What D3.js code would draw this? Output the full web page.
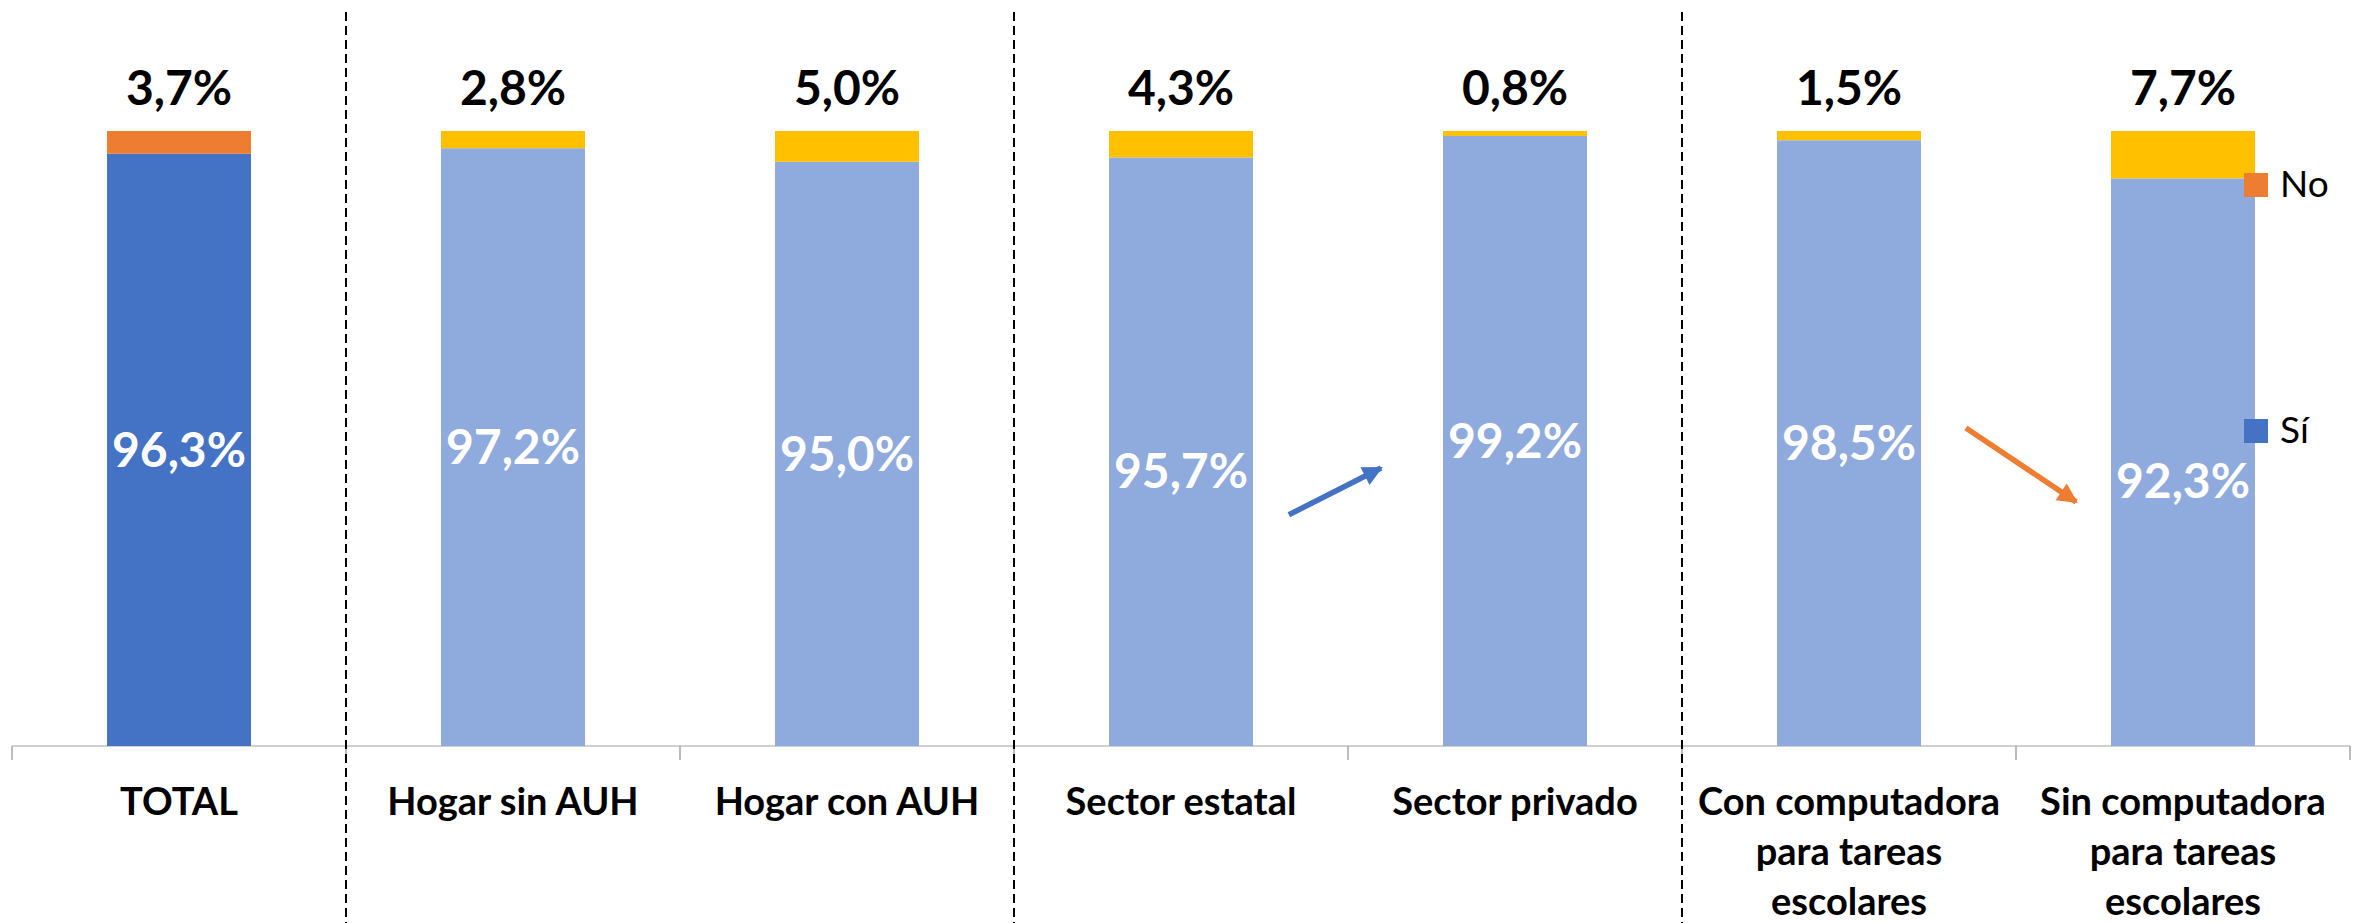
<!DOCTYPE html>
<meta charset="utf-8">
<html>
<head>
<style>
  body { margin: 0; background: #fff; }
  text { font-family: Lato, "Open Sans", sans-serif; }
</style>
</head>
<body>
<div id="chartContainer"></div>
<script src="https://cdn.jsdelivr.net/npm/d3@7"></script>
<script type="text/javascript">
  // data
  var categories = ["TOTAL", "Hogar sin AUH", "Hogar con AUH", "Sector estatal",
    "Sector privado", "Con computadora para tareas escolares", "Sin computadora para tareas escolares"];
  var categoryLines = [["TOTAL"], ["Hogar sin AUH"], ["Hogar con AUH"], ["Sector estatal"],
    ["Sector privado"], ["Con computadora", "para tareas", "escolares"], ["Sin computadora", "para tareas", "escolares"]];
  var si = [96.3, 97.2, 95.0, 95.7, 99.2, 98.5, 92.3];
  var no = [3.7, 2.8, 5.0, 4.3, 0.8, 1.5, 7.7];
  var legendKeys = ["No", "Sí"];

  var W = 2359, H = 923;
  var svg = d3.select("#chartContainer").append("svg")
    .attr("width", W).attr("height", H);

  var rows = categories.map(function (c, i) { return { cat: c, idx: i, si: si[i], no: no[i] }; });

  var x = d3.scaleBand().domain(categories).range([12, 2350]);
  var y = d3.scaleLinear().domain([0, 100]).range([746, 131]);
  var bw = x.bandwidth();
  var barW = bw * 0.431;

  var fmt = function (v) { return v.toFixed(1).replace(".", ",") + "%"; };
  var siColor = function (i) { return i === 0 ? "#4472C4" : "#8FAADC"; };
  var noColor = function (i) { return i === 0 ? "#ED7D31" : "#FFC000"; };

  // axis line + ticks between categories
  svg.append("line")
    .attr("x1", x.range()[0]).attr("x2", x.range()[1])
    .attr("y1", y(0)).attr("y2", y(0))
    .attr("stroke", "#D0D0D0").attr("stroke-width", 2);
  var edges = categories.map(function (c) { return x(c); }).concat([x.range()[1]]);
  svg.selectAll(".tick-mark").data(edges).enter().append("line")
    .attr("x1", function (d) { return d; }).attr("x2", function (d) { return d; })
    .attr("y1", y(0)).attr("y2", y(0) + 14)
    .attr("stroke", "#A6A6A6").attr("stroke-width", 1.5);

  // stacked bars
  var stack = d3.stack().keys(["si", "no"]);
  var series = stack(rows);
  series.forEach(function (s) {
    svg.selectAll(".bar-" + s.key).data(s).enter().append("rect")
      .attr("x", function (d) { return x(d.data.cat) + (bw - barW) / 2; })
      .attr("y", function (d) { return y(d[1]); })
      .attr("width", barW)
      .attr("height", function (d) { return y(d[0]) - y(d[1]); })
      .attr("fill", function (d) { return s.key === "si" ? siColor(d.data.idx) : noColor(d.data.idx); });
  });

  // white labels inside "Sí" segment (two of them sit a bit lower in the original)
  var nudge = { "Sector estatal": 19, "Sin computadora para tareas escolares": 19 };
  svg.selectAll(".si-label").data(rows).enter().append("text")
    .attr("x", function (d) { return x(d.cat) + bw / 2; })
    .attr("y", function (d) { return (y(0) + y(d.si)) / 2 + 17 + (nudge[d.cat] || 0); })
    .attr("text-anchor", "middle")
    .attr("fill", "#fff")
    .style("font-weight", "bold").style("font-size", "48px")
    .text(function (d) { return fmt(d.si); });

  // black labels above bars
  svg.selectAll(".no-label").data(rows).enter().append("text")
    .attr("x", function (d) { return x(d.cat) + bw / 2; })
    .attr("y", y(100) - 26)
    .attr("text-anchor", "middle")
    .attr("fill", "#000")
    .style("font-weight", "bold").style("font-size", "48px")
    .text(function (d) { return fmt(d.no); });

  // category labels
  var catText = svg.selectAll(".cat-label").data(rows).enter().append("text")
    .attr("text-anchor", "middle")
    .style("font-weight", "bold").style("font-size", "38px");
  catText.selectAll("tspan").data(function (d) {
      return categoryLines[d.idx].map(function (l) { return { line: l, cat: d.cat }; });
    }).enter().append("tspan")
    .attr("x", function (d) { return x(d.cat) + bw / 2; })
    .attr("y", function (d, i) { return 815 + i * 50; })
    .text(function (d) { return d.line; });

  // dashed group separators
  var seps = [categories[1], categories[3], categories[5]];
  svg.selectAll(".sep").data(seps).enter().append("line")
    .attr("x1", function (d) { return x(d); }).attr("x2", function (d) { return x(d); })
    .attr("y1", 12).attr("y2", H)
    .attr("stroke", "#000").attr("stroke-width", 2)
    .attr("stroke-dasharray", "9,5");

  // arrows
  var defs = svg.append("defs");
  var arrows = [
    { from: "Sector estatal", x0: 0.823, v0: 37.6, x1: 1.099, v1: 45.2, color: "#4472C4" },
    { from: categories[5], x0: 0.85, v0: 51.7, x1: 1.18, v1: 39.7, color: "#ED7D31" }
  ];
  arrows.forEach(function (a, i) {
    defs.append("marker")
      .attr("id", "head" + i)
      .attr("markerUnits", "userSpaceOnUse")
      .attr("viewBox", "0 0 10 10")
      .attr("refX", 9).attr("refY", 5)
      .attr("markerWidth", 26).attr("markerHeight", 20)
      .attr("orient", "auto")
      .append("path").attr("d", "M0,0L10,5L0,10Z").attr("fill", a.color);
    var bx = x(a.from);
    svg.append("line")
      .attr("x1", bx + a.x0 * bw).attr("y1", y(a.v0))
      .attr("x2", bx + a.x1 * bw).attr("y2", y(a.v1))
      .attr("stroke", a.color).attr("stroke-width", 5.5)
      .attr("marker-end", "url(#head" + i + ")");
  });

  // legend
  var legendY = [173, 419];
  var legend = svg.selectAll(".legend").data(legendKeys).enter().append("g")
    .attr("transform", function (d, i) { return "translate(2244," + legendY[i] + ")"; });
  legend.append("rect")
    .attr("width", 24).attr("height", 24)
    .attr("fill", function (d, i) { return i === 0 ? "#ED7D31" : "#4472C4"; });
  legend.append("text")
    .attr("x", 36).attr("y", 24)
    .style("font-size", "37px")
    .text(function (d) { return d; });
</script>
</body>
</html>
